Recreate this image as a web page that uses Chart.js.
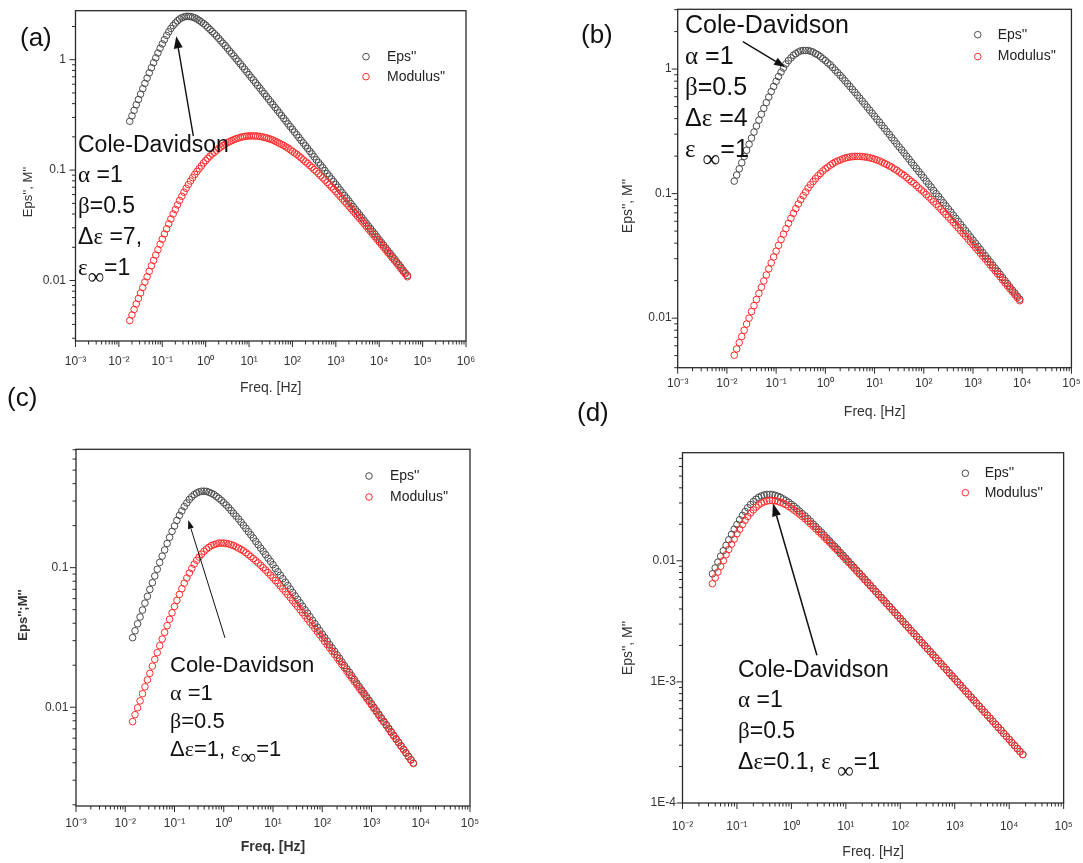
<!DOCTYPE html>
<html>
<head>
<meta charset="utf-8">
<title>Cole-Davidson: Eps'' and Modulus''</title>
<script src="https://cdn.jsdelivr.net/npm/chart.js@4.4.1/dist/chart.umd.min.js"></script>
<style>
  body { margin: 0; background: #fff; }
  #fig { position: relative; width: 1083px; height: 863px; overflow: hidden;
         font-family: "Liberation Sans", Arial, sans-serif; color: #111; }
  #fig canvas { position: absolute; }
  .tag { position: absolute; font-size: 26px; line-height: 26px; }
  .note { position: absolute; white-space: nowrap; }
  .gr { font-family: "Liberation Serif", "DejaVu Serif", serif; }
  .inf { font-family: "Liberation Serif", "DejaVu Serif", serif; position: relative; top: 0.38em; }
</style>
</head>
<body>
<div id="fig">
  <canvas id="chartA" width="541" height="420" style="left:0;top:0"></canvas>
  <canvas id="chartB" width="542" height="430" style="left:541px;top:0"></canvas>
  <canvas id="chartC" width="541" height="443" style="left:0;top:420px"></canvas>
  <canvas id="chartD" width="542" height="433" style="left:541px;top:430px"></canvas>

  <div class="tag" style="left:20px;top:24px">(a)</div>
  <div class="tag" style="left:581px;top:21px">(b)</div>
  <div class="tag" style="left:7px;top:384px">(c)</div>
  <div class="tag" style="left:577px;top:399px">(d)</div>

  <div class="note" style="left:78px;top:129px;font-size:23px;line-height:30px">
    <div>Cole-Davidson</div>
    <div><span class="gr">α</span> =1</div>
    <div><span class="gr">β</span>=0.5</div>
    <div>Δ<span class="gr">ε</span> =7,</div>
    <div><span class="gr">ε</span><span class="inf">∞</span>=1</div>
  </div>
  <div class="note" style="left:685px;top:9px;font-size:25px;line-height:31px">
    <div>Cole-Davidson</div>
    <div><span class="gr">α</span> =1</div>
    <div><span class="gr">β</span>=0.5</div>
    <div>Δ<span class="gr">ε</span> =4</div>
    <div><span class="gr">ε</span> <span class="inf">∞</span>=1</div>
  </div>
  <div class="note" style="left:170px;top:651px;font-size:22px;line-height:28px">
    <div>Cole-Davidson</div>
    <div><span class="gr">α</span> =1</div>
    <div><span class="gr">β</span>=0.5</div>
    <div>Δ<span class="gr">ε</span>=1, <span class="gr">ε</span><span class="inf">∞</span>=1</div>
  </div>
  <div class="note" style="left:738px;top:654px;font-size:23px;line-height:30px">
    <div>Cole-Davidson</div>
    <div><span class="gr">α</span> =1</div>
    <div><span class="gr">β</span>=0.5</div>
    <div>Δ<span class="gr">ε</span>=0.1, <span class="gr">ε</span> <span class="inf">∞</span>=1</div>
  </div>
</div>

<script>
// Frequency sweep [Hz] shared by all panels; each panel starts at its own index
const freq = [0.0141, 0.0158, 0.0178, 0.0200, 0.0224, 0.0251, 0.0282, 0.0316, 0.0355, 0.0398,
  0.0447, 0.0501, 0.0562, 0.0631, 0.0708, 0.0794, 0.0891,
  0.100, 0.112, 0.126, 0.141, 0.158, 0.178, 0.200, 0.224, 0.251, 0.282,
  0.316, 0.355, 0.398, 0.447, 0.501, 0.562, 0.631, 0.708, 0.794, 0.891,
  1.00, 1.12, 1.26, 1.41, 1.58, 1.78, 2.00, 2.24, 2.51, 2.82,
  3.16, 3.55, 3.98, 4.47, 5.01, 5.62, 6.31, 7.08, 7.94, 8.91,
  10.0, 11.2, 12.6, 14.1, 15.8, 17.8, 20.0, 22.4, 25.1, 28.2,
  31.6, 35.5, 39.8, 44.7, 50.1, 56.2, 63.1, 70.8, 79.4, 89.1,
  100, 112, 126, 141, 158, 178, 200, 224, 251, 282,
  316, 355, 398, 447, 501, 562, 631, 708, 794, 891,
  1000, 1120, 1260, 1410, 1580, 1780, 2000, 2240, 2510, 2820,
  3160, 3550, 3980, 4470, 5010, 5620, 6310, 7080, 7940, 8910,
  10000, 11200, 12600, 14100, 15800, 17800, 20000, 22400, 25100, 28200,
  31600, 35500, 39800, 44700];

// (a) delta eps = 7, starts at 0.0178 Hz
const epsA = [0.277, 0.310, 0.348, 0.390, 0.436, 0.488, 0.546, 0.610, 0.681, 0.760,
  0.846, 0.940, 1.04, 1.15, 1.27, 1.39, 1.52, 1.66, 1.79, 1.92,
  2.04, 2.15, 2.25, 2.34, 2.40, 2.44, 2.47, 2.47, 2.46, 2.43,
  2.39, 2.34, 2.27, 2.20, 2.13, 2.05, 1.96, 1.88, 1.80, 1.72,
  1.64, 1.56, 1.48, 1.41, 1.34, 1.27, 1.20, 1.14, 1.08, 1.02,
  0.968, 0.916, 0.866, 0.819, 0.774, 0.732, 0.692, 0.654, 0.618, 0.584,
  0.552, 0.521, 0.493, 0.465, 0.439, 0.415, 0.392, 0.370, 0.350, 0.330,
  0.312, 0.294, 0.278, 0.262, 0.248, 0.234, 0.221, 0.209, 0.197, 0.186,
  0.176, 0.166, 0.157, 0.148, 0.140, 0.132, 0.124, 0.117, 0.111, 0.105,
  0.0988, 0.0932, 0.0880, 0.0831, 0.0785, 0.0741, 0.0699, 0.0660, 0.0623, 0.0588,
  0.0555, 0.0524, 0.0495, 0.0467, 0.0441, 0.0417, 0.0393, 0.0371, 0.0350, 0.0331,
  0.0312, 0.0295, 0.0278, 0.0263, 0.0248, 0.0234, 0.0221, 0.0209, 0.0197, 0.0186,
  0.0176, 0.0166, 0.0157, 0.0148, 0.0140, 0.0132, 0.0124, 0.0117, 0.0111];
const modA = [0.00434, 0.00487, 0.00546, 0.00612, 0.00687, 0.00770, 0.00863, 0.00968, 0.0108, 0.0121,
  0.0136, 0.0152, 0.0170, 0.0190, 0.0213, 0.0237, 0.0264, 0.0294, 0.0326, 0.0361,
  0.0400, 0.0440, 0.0484, 0.0531, 0.0579, 0.0631, 0.0684, 0.0739, 0.0796, 0.0854,
  0.0913, 0.0973, 0.103, 0.109, 0.116, 0.122, 0.128, 0.134, 0.140, 0.145,
  0.151, 0.157, 0.162, 0.167, 0.172, 0.177, 0.181, 0.185, 0.189, 0.192,
  0.195, 0.198, 0.200, 0.202, 0.203, 0.204, 0.204, 0.204, 0.204, 0.203,
  0.202, 0.200, 0.198, 0.196, 0.193, 0.190, 0.187, 0.183, 0.179, 0.175,
  0.171, 0.167, 0.162, 0.158, 0.153, 0.148, 0.143, 0.139, 0.134, 0.129,
  0.124, 0.119, 0.115, 0.110, 0.106, 0.101, 0.0972, 0.0930, 0.0889, 0.0850,
  0.0812, 0.0774, 0.0739, 0.0704, 0.0671, 0.0639, 0.0608, 0.0579, 0.0550, 0.0523,
  0.0497, 0.0472, 0.0448, 0.0426, 0.0404, 0.0383, 0.0364, 0.0345, 0.0327, 0.0310,
  0.0293, 0.0278, 0.0263, 0.0249, 0.0236, 0.0224, 0.0212, 0.0200, 0.0190, 0.0179,
  0.0170, 0.0160, 0.0152, 0.0144, 0.0136, 0.0128, 0.0121, 0.0115, 0.0108];

// (b) delta eps = 4, starts at 0.0141 Hz
const epsB = [0.126, 0.141, 0.158, 0.177, 0.199, 0.223, 0.249, 0.279, 0.312, 0.349,
  0.389, 0.434, 0.484, 0.537, 0.596, 0.659, 0.726, 0.797, 0.871, 0.946,
  1.02, 1.10, 1.17, 1.23, 1.29, 1.33, 1.37, 1.40, 1.41, 1.41,
  1.41, 1.39, 1.37, 1.33, 1.30, 1.26, 1.21, 1.17, 1.12, 1.08,
  1.03, 0.981, 0.935, 0.890, 0.847, 0.805, 0.764, 0.725, 0.687, 0.651,
  0.617, 0.584, 0.553, 0.523, 0.495, 0.468, 0.443, 0.418, 0.395, 0.374,
  0.353, 0.334, 0.315, 0.298, 0.281, 0.266, 0.251, 0.237, 0.224, 0.212,
  0.200, 0.189, 0.178, 0.168, 0.159, 0.150, 0.142, 0.134, 0.126, 0.119,
  0.113, 0.106, 0.100, 0.0947, 0.0894, 0.0844, 0.0797, 0.0753, 0.0711, 0.0671,
  0.0633, 0.0598, 0.0564, 0.0533, 0.0503, 0.0475, 0.0448, 0.0423, 0.0400, 0.0377,
  0.0356, 0.0336, 0.0317, 0.0300, 0.0283, 0.0267, 0.0252, 0.0238, 0.0225, 0.0212,
  0.0200, 0.0189, 0.0178, 0.0168, 0.0159, 0.0150, 0.0142];
const modB = [0.00504, 0.00566, 0.00635, 0.00712, 0.00799, 0.00896, 0.0100, 0.0113, 0.0126, 0.0141,
  0.0158, 0.0177, 0.0199, 0.0222, 0.0249, 0.0278, 0.0310, 0.0345, 0.0384, 0.0427,
  0.0473, 0.0523, 0.0577, 0.0634, 0.0695, 0.0758, 0.0825, 0.0893, 0.0963, 0.103,
  0.111, 0.118, 0.125, 0.132, 0.139, 0.145, 0.152, 0.158, 0.163, 0.169,
  0.174, 0.179, 0.183, 0.186, 0.190, 0.193, 0.195, 0.197, 0.198, 0.199,
  0.199, 0.199, 0.198, 0.197, 0.196, 0.194, 0.192, 0.189, 0.186, 0.183,
  0.179, 0.175, 0.171, 0.167, 0.163, 0.158, 0.154, 0.149, 0.144, 0.140,
  0.135, 0.130, 0.125, 0.121, 0.116, 0.111, 0.107, 0.103, 0.0983, 0.0941,
  0.0900, 0.0860, 0.0822, 0.0784, 0.0749, 0.0714, 0.0680, 0.0648, 0.0617, 0.0587,
  0.0558, 0.0531, 0.0504, 0.0479, 0.0455, 0.0432, 0.0410, 0.0389, 0.0369, 0.0350,
  0.0332, 0.0314, 0.0298, 0.0282, 0.0267, 0.0253, 0.0240, 0.0227, 0.0215, 0.0203,
  0.0192, 0.0182, 0.0172, 0.0163, 0.0154, 0.0146, 0.0138];

// (c) delta eps = 1, starts at 0.0141 Hz
const epsC = [0.0315, 0.0353, 0.0396, 0.0443, 0.0497, 0.0557, 0.0623, 0.0698, 0.0780, 0.0872,
  0.0974, 0.109, 0.121, 0.134, 0.149, 0.165, 0.182, 0.199, 0.218, 0.237,
  0.255, 0.274, 0.291, 0.308, 0.322, 0.334, 0.343, 0.349, 0.353, 0.353,
  0.352, 0.347, 0.341, 0.334, 0.324, 0.314, 0.304, 0.292, 0.281, 0.269,
  0.257, 0.245, 0.234, 0.223, 0.212, 0.201, 0.191, 0.181, 0.172, 0.163,
  0.154, 0.146, 0.138, 0.131, 0.124, 0.117, 0.111, 0.105, 0.0989, 0.0935,
  0.0883, 0.0834, 0.0788, 0.0745, 0.0704, 0.0665, 0.0628, 0.0593, 0.0560, 0.0529,
  0.0499, 0.0472, 0.0445, 0.0420, 0.0397, 0.0375, 0.0354, 0.0334, 0.0316, 0.0298,
  0.0281, 0.0266, 0.0251, 0.0237, 0.0224, 0.0211, 0.0199, 0.0188, 0.0178, 0.0168,
  0.0158, 0.0149, 0.0141, 0.0133, 0.0126, 0.0119, 0.0112, 0.0106, 0.00999, 0.00943,
  0.00890, 0.00840, 0.00793, 0.00749, 0.00707, 0.00668, 0.00630, 0.00595, 0.00562, 0.00530,
  0.00501, 0.00473, 0.00446, 0.00421, 0.00398];
const modC = [0.00788, 0.00884, 0.00991, 0.0111, 0.0125, 0.0140, 0.0157, 0.0175, 0.0197, 0.0220,
  0.0246, 0.0276, 0.0308, 0.0344, 0.0384, 0.0427, 0.0475, 0.0527, 0.0583, 0.0643,
  0.0707, 0.0774, 0.0844, 0.0915, 0.0987, 0.106, 0.113, 0.119, 0.125, 0.131,
  0.136, 0.140, 0.144, 0.146, 0.148, 0.150, 0.150, 0.150, 0.149, 0.148,
  0.146, 0.144, 0.141, 0.138, 0.135, 0.132, 0.128, 0.124, 0.120, 0.116,
  0.112, 0.108, 0.104, 0.100, 0.0961, 0.0922, 0.0884, 0.0846, 0.0809, 0.0774,
  0.0739, 0.0705, 0.0673, 0.0641, 0.0611, 0.0581, 0.0553, 0.0526, 0.0500, 0.0476,
  0.0452, 0.0429, 0.0407, 0.0387, 0.0367, 0.0348, 0.0330, 0.0313, 0.0296, 0.0281,
  0.0266, 0.0252, 0.0239, 0.0226, 0.0214, 0.0202, 0.0192, 0.0181, 0.0171, 0.0162,
  0.0153, 0.0145, 0.0137, 0.0130, 0.0123, 0.0116, 0.0110, 0.0104, 0.00979, 0.00925,
  0.00874, 0.00826, 0.00781, 0.00738, 0.00697, 0.00659, 0.00622, 0.00588, 0.00556, 0.00525,
  0.00496, 0.00468, 0.00442, 0.00418, 0.00395];

// (d) delta eps = 0.1, starts at 0.0355 Hz
const epsD = [0.00780, 0.00872, 0.00974, 0.0109, 0.0121, 0.0134, 0.0149, 0.0165, 0.0182, 0.0199,
  0.0218, 0.0237, 0.0255, 0.0274, 0.0291, 0.0308, 0.0322, 0.0334, 0.0343, 0.0349,
  0.0353, 0.0353, 0.0352, 0.0347, 0.0341, 0.0334, 0.0324, 0.0314, 0.0304, 0.0292,
  0.0281, 0.0269, 0.0257, 0.0245, 0.0234, 0.0223, 0.0212, 0.0201, 0.0191, 0.0181,
  0.0172, 0.0163, 0.0154, 0.0146, 0.0138, 0.0131, 0.0124, 0.0117, 0.0111, 0.0105,
  0.00989, 0.00935, 0.00883, 0.00834, 0.00788, 0.00745, 0.00704, 0.00665, 0.00628, 0.00593,
  0.00560, 0.00529, 0.00499, 0.00472, 0.00445, 0.00420, 0.00397, 0.00375, 0.00354, 0.00334,
  0.00316, 0.00298, 0.00281, 0.00266, 0.00251, 0.00237, 0.00224, 0.00211, 0.00199, 0.00188,
  0.00178, 0.00168, 0.00158, 0.00149, 0.00141, 0.00133, 0.00126, 0.00119, 0.00112, 0.00106,
  0.000999, 0.000943, 0.000890, 0.000840, 0.000793, 0.000749, 0.000707, 0.000668, 0.000630, 0.000595,
  0.000562, 0.000530, 0.000501, 0.000473, 0.000446, 0.000421, 0.000398, 0.000375, 0.000354, 0.000335,
  0.000316, 0.000298, 0.000282, 0.000266, 0.000251];
const modD = [0.00646, 0.00722, 0.00807, 0.00900, 0.0100, 0.0112, 0.0124, 0.0137, 0.0151, 0.0167,
  0.0182, 0.0199, 0.0216, 0.0232, 0.0248, 0.0263, 0.0277, 0.0289, 0.0299, 0.0306,
  0.0311, 0.0314, 0.0314, 0.0313, 0.0309, 0.0304, 0.0297, 0.0290, 0.0281, 0.0272,
  0.0262, 0.0252, 0.0242, 0.0232, 0.0222, 0.0212, 0.0202, 0.0193, 0.0183, 0.0174,
  0.0166, 0.0157, 0.0149, 0.0142, 0.0134, 0.0127, 0.0121, 0.0114, 0.0108, 0.0102,
  0.00969, 0.00917, 0.00868, 0.00821, 0.00776, 0.00734, 0.00694, 0.00656, 0.00620, 0.00586,
  0.00554, 0.00523, 0.00494, 0.00467, 0.00441, 0.00417, 0.00394, 0.00372, 0.00352, 0.00332,
  0.00314, 0.00296, 0.00280, 0.00264, 0.00250, 0.00236, 0.00223, 0.00210, 0.00199, 0.00187,
  0.00177, 0.00167, 0.00158, 0.00149, 0.00141, 0.00133, 0.00126, 0.00118, 0.00112, 0.00106,
  0.000997, 0.000941, 0.000888, 0.000839, 0.000792, 0.000748, 0.000706, 0.000667, 0.000629, 0.000594,
  0.000561, 0.000530, 0.000500, 0.000473, 0.000446, 0.000421, 0.000398, 0.000375, 0.000354, 0.000335,
  0.000316, 0.000298, 0.000281, 0.000266, 0.000251];

// Labelled (major) ticks
const xTicksA = [1e-3, 1e-2, 1e-1, 1, 10, 100, 1e3, 1e4, 1e5, 1e6];
const xLabelsA = ['10⁻³', '10⁻²', '10⁻¹', '10⁰', '10¹', '10²', '10³', '10⁴', '10⁵', '10⁶'];
const xTicksBC = [1e-3, 1e-2, 1e-1, 1, 10, 100, 1e3, 1e4, 1e5];
const xLabelsBC = ['10⁻³', '10⁻²', '10⁻¹', '10⁰', '10¹', '10²', '10³', '10⁴', '10⁵'];
const xTicksD = [1e-2, 1e-1, 1, 10, 100, 1e3, 1e4, 1e5];
const xLabelsD = ['10⁻²', '10⁻¹', '10⁰', '10¹', '10²', '10³', '10⁴', '10⁵'];
const yTicksAB = [0.01, 0.1, 1];
const yLabelsAB = ['0.01', '0.1', '1'];
const yTicksC = [0.01, 0.1];
const yLabelsC = ['0.01', '0.1'];
const yTicksD = [1e-4, 1e-3, 0.01];
const yLabelsD = ['1E-4', '1E-3', '0.01'];

const seriesNames = ["Eps''", "Modulus''"];
const seriesColors = ['#4a4a4a', '#ff2b2b'];

Chart.defaults.font.family = '"Liberation Sans", Arial, sans-serif';
Chart.defaults.color = '#333';

// Layout of the four panels (pixels inside each canvas)
const panels = [
  { id: 'chartA', start: 2, eps: epsA, mod: modA,
    xMin: 1e-3, xMax: 1e6, yMin: 0.00283, yMax: 2.78,
    xTicks: xTicksA, xLabels: xLabelsA, yTicks: yTicksAB, yLabels: yLabelsAB,
    yTitle: "Eps'', M''", yTitleSize: 13, yTitlePos: [28, 192], bold: false,
    padding: { left: 0, top: 6, right: 75, bottom: 0 },
    yWidth: 75.5, xHeight: 79, xTickPad: 7.5, yTickPad: 3.5, xTitlePad: 23.6,
    legend: { dx: -100, dy: 46, gap: 20, tx: 21 },
    arrow: { from: [0.52, 0.203], to: [0.21, 1.63], head: 12, half: 4.5, width: 1.4 } },
  { id: 'chartB', start: 0, eps: epsB, mod: modB,
    xMin: 1e-3, xMax: 1e5, yMin: 0.004, yMax: 3.02,
    xTicks: xTicksBC, xLabels: xLabelsBC, yTicks: yTicksAB, yLabels: yLabelsAB,
    yTitle: "Eps'', M''", yTitleSize: 14, yTitlePos: [87, 206], bold: false,
    padding: { left: 0, top: 9.3, right: 9.3, bottom: 0 },
    yWidth: 136.7, xHeight: 62.3, xTickPad: 2.4, yTickPad: 0, xTitlePad: 9.6,
    legend: { dx: -93.7, dy: 25.4, gap: 21.9, tx: 20 },
    arrow: { from: [0.0211, 1.66], to: [0.152, 1.04], head: 11, half: 4, width: 1.4 } },
  { id: 'chartC', start: 0, eps: epsC, mod: modC,
    xMin: 1e-3, xMax: 1e5, yMin: 0.00196, yMax: 0.705,
    xTicks: xTicksBC, xLabels: xLabelsBC, yTicks: yTicksC, yLabels: yLabelsC,
    yTitle: "Eps'';M''", yTitleSize: 13, yTitlePos: [23, 195], bold: true,
    padding: { left: 0, top: 29.3, right: 71, bottom: 0 },
    yWidth: 76, xHeight: 57, xTickPad: 4.8, yTickPad: 1.7, xTitlePad: 7.6,
    legend: { dx: -101, dy: 26.7, gap: 21, tx: 21 },
    arrow: { from: [1.06, 0.0314], to: [0.19, 0.22], head: 9, half: 3, width: 1 } },
  { id: 'chartD', start: 8, eps: epsD, mod: modD,
    xMin: 1e-2, xMax: 1e5, yMin: 1e-4, yMax: 0.078,
    xTicks: xTicksD, xLabels: xLabelsD, yTicks: yTicksD, yLabels: yLabelsD,
    yTitle: "Eps'', M''", yTitleSize: 14, yTitlePos: [87, 218], bold: false,
    padding: { left: 0, top: 22.7, right: 10.7, bottom: 0 },
    yWidth: 141.5, xHeight: 60, xTickPad: 10.2, yTickPad: 0.7, xTitlePad: 2.9,
    legend: { dx: -98.3, dy: 20.6, gap: 19.4, tx: 19.3 },
    arrow: { from: [2.94, 0.00166], to: [0.458, 0.0298], head: 13, half: 4.5, width: 1.5 } }
];

// Tick values 1..9 x 10^n inside the axis range, decades marked as major
function decadeTicks(min, max) {
  const ticks = [];
  for (let e = Math.floor(Math.log10(min)); e <= Math.ceil(Math.log10(max)); e++) {
    for (let m = 1; m <= 9; m++) {
      const v = m * Math.pow(10, e);
      if (v >= min * 0.9999 && v <= max * 1.0001) ticks.push({ value: v, major: m === 1 });
    }
  }
  return ticks;
}

function tickLabel(value, values, labels) {
  const i = values.findIndex(t => Math.abs(t - value) <= t * 1e-6);
  return i >= 0 ? labels[i] : '';
}

function logAxis(p, isX) {
  return {
    type: 'logarithmic',
    position: isX ? 'bottom' : 'left',
    min: isX ? p.xMin : p.yMin,
    max: isX ? p.xMax : p.yMax,
    grid: { display: false, drawTicks: true, tickLength: 6 },
    border: { display: false },
    ticks: {
      autoSkip: false,
      maxRotation: 0,
      padding: isX ? p.xTickPad : p.yTickPad,
      color: '#333',
      font: { size: 12 },
      callback: (v) => isX ? tickLabel(v, p.xTicks, p.xLabels) : tickLabel(v, p.yTicks, p.yLabels)
    },
    // the y title is drawn by the decor plugin so it can sit off-centre like the original
    title: {
      display: isX,
      text: 'Freq. [Hz]',
      color: '#333',
      font: { size: 14, weight: p.bold ? 'bold' : 'normal' },
      padding: { top: 0, bottom: p.xTitlePad }
    },
    afterBuildTicks: (scale) => { scale.ticks = decadeTicks(scale.min, scale.max); },
    afterFit: (scale) => {
      if (isX) scale.height = p.xHeight; else scale.width = p.yWidth;
    }
  };
}

function drawArrow(ctx, x1, y1, x2, y2, len, half) {
  const a = Math.atan2(y2 - y1, x2 - x1);
  const bx = x2 - len * Math.cos(a);
  const by = y2 - len * Math.sin(a);
  ctx.beginPath();
  ctx.moveTo(x1, y1);
  ctx.lineTo(bx, by);
  ctx.stroke();
  ctx.beginPath();
  ctx.moveTo(x2, y2);
  ctx.lineTo(bx + half * Math.sin(a), by - half * Math.cos(a));
  ctx.lineTo(bx - half * Math.sin(a), by + half * Math.cos(a));
  ctx.closePath();
  ctx.fill();
}

// Frame, tick marks, y title, inner legend and arrow
function decorPlugin(p) {
  return {
    id: 'decor',
    afterDraw(chart) {
      const { ctx, chartArea: area, scales } = chart;
      ctx.save();
      ctx.strokeStyle = '#2a2a2a';
      ctx.lineWidth = 1.3;
      ctx.strokeRect(area.left, area.top, area.right - area.left, area.bottom - area.top);

      ctx.lineWidth = 1;
      ctx.beginPath();
      scales.x.ticks.forEach(t => {
        const px = scales.x.getPixelForValue(t.value);
        ctx.moveTo(px, area.bottom);
        ctx.lineTo(px, area.bottom + (t.major ? 6 : 3.5));
      });
      scales.y.ticks.forEach(t => {
        const py = scales.y.getPixelForValue(t.value);
        ctx.moveTo(area.left, py);
        ctx.lineTo(area.left - (t.major ? 6 : 3.5), py);
      });
      ctx.stroke();

      // rotated y-axis title
      ctx.save();
      ctx.translate(p.yTitlePos[0], p.yTitlePos[1]);
      ctx.rotate(-Math.PI / 2);
      ctx.font = (p.bold ? 'bold ' : '') + p.yTitleSize + 'px "Liberation Sans", Arial, sans-serif';
      ctx.fillStyle = '#333';
      ctx.textAlign = 'center';
      ctx.textBaseline = 'middle';
      ctx.fillText(p.yTitle, 0, 0);
      ctx.restore();

      // legend inside the plot box
      const lx = area.right + p.legend.dx;
      ctx.font = '14px "Liberation Sans", Arial, sans-serif';
      ctx.textAlign = 'left';
      ctx.textBaseline = 'middle';
      chart.data.datasets.forEach((ds, i) => {
        const ly = area.top + p.legend.dy + i * p.legend.gap;
        ctx.strokeStyle = ds.borderColor;
        ctx.lineWidth = 1;
        ctx.beginPath();
        ctx.arc(lx, ly, 3.3, 0, Math.PI * 2);
        ctx.stroke();
        ctx.fillStyle = '#222';
        ctx.fillText(ds.label, lx + p.legend.tx, ly);
      });

      // arrow pointing at the loss peak
      const a = p.arrow;
      ctx.strokeStyle = '#111';
      ctx.fillStyle = '#111';
      ctx.lineWidth = a.width;
      drawArrow(ctx,
        scales.x.getPixelForValue(a.from[0]), scales.y.getPixelForValue(a.from[1]),
        scales.x.getPixelForValue(a.to[0]), scales.y.getPixelForValue(a.to[1]),
        a.head, a.half);
      ctx.restore();
    }
  };
}

function makePanel(p) {
  const series = [p.eps, p.mod];
  const datasets = series.map((vals, i) => ({
    label: seriesNames[i],
    data: vals.map((v, j) => ({ x: freq[p.start + j], y: v })),
    borderColor: seriesColors[i],
    backgroundColor: 'rgba(0,0,0,0)',
    pointBorderColor: seriesColors[i],
    pointBackgroundColor: 'rgba(0,0,0,0)',
    pointRadius: 3.3,
    pointHoverRadius: 3.3,
    pointBorderWidth: 1,
    order: 2 - i
  }));

  return new Chart(document.getElementById(p.id), {
    type: 'scatter',
    data: { datasets: datasets },
    options: {
      responsive: false,
      animation: false,
      devicePixelRatio: 1,
      events: [],
      layout: { padding: p.padding, autoPadding: false },
      plugins: { legend: { display: false }, tooltip: { enabled: false } },
      scales: { x: logAxis(p, true), y: logAxis(p, false) }
    },
    plugins: [decorPlugin(p)]
  });
}

panels.forEach(makePanel);
</script>
</body>
</html>
